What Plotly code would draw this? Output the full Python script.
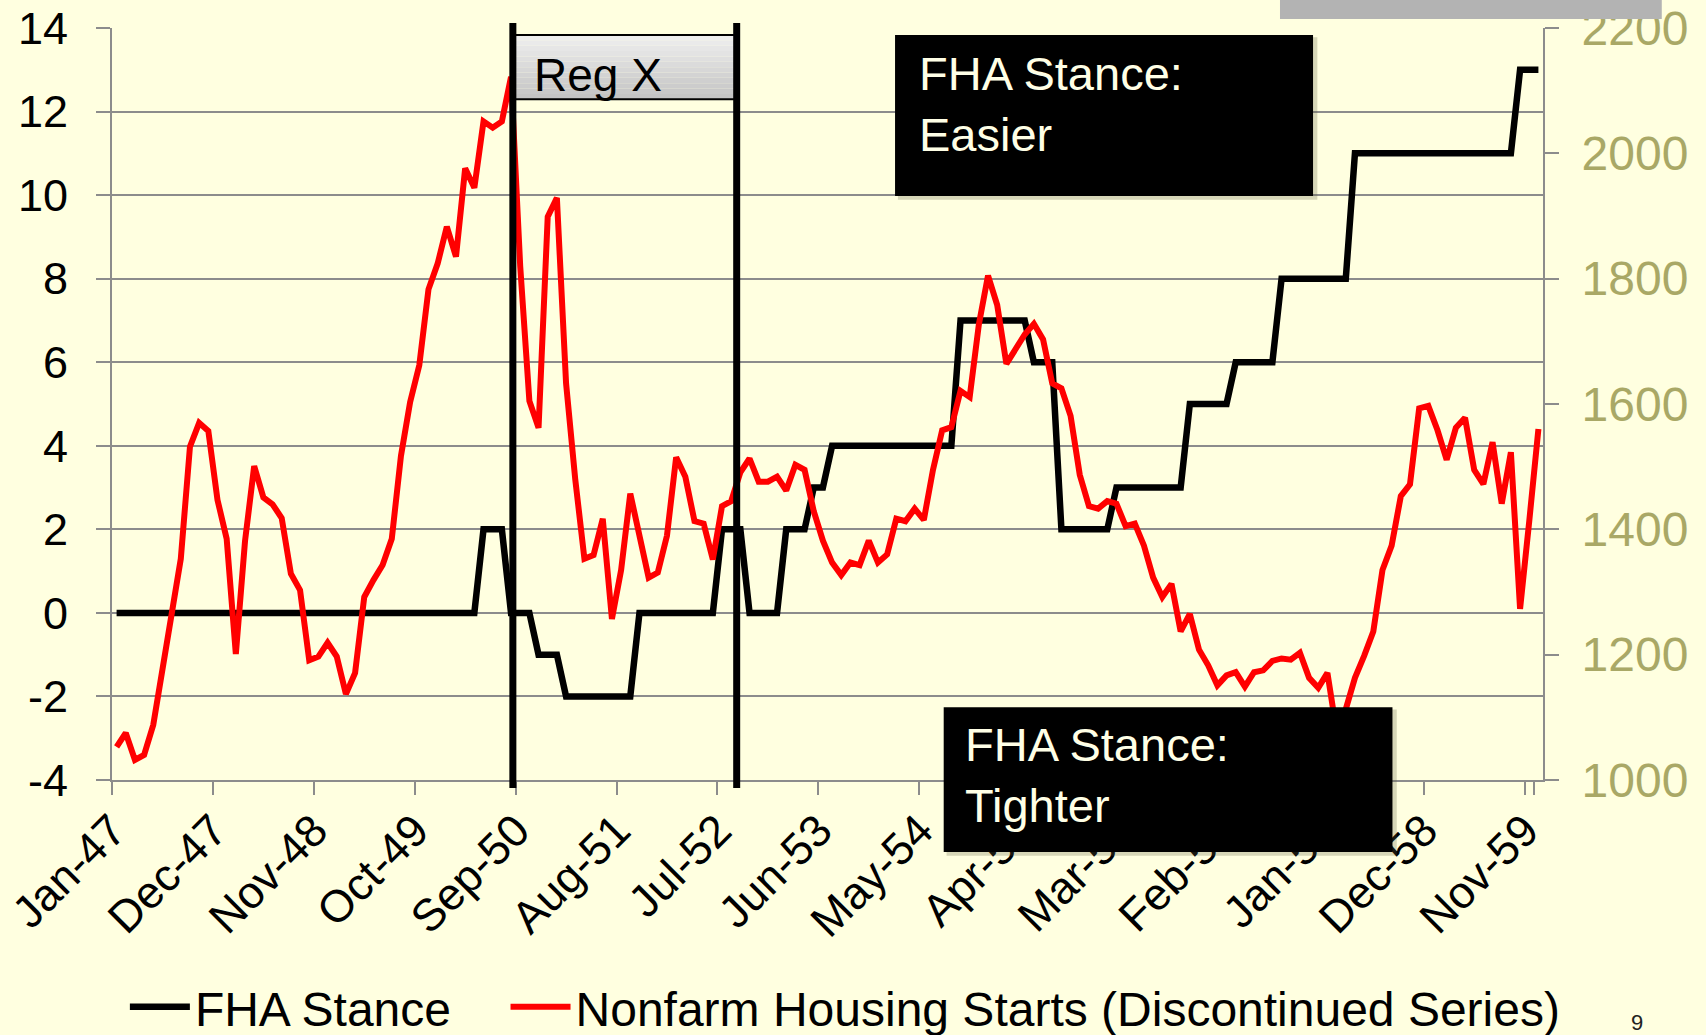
import plotly.graph_objects as go
import pandas as pd

# ---------------- data ----------------
MONTHS = pd.date_range("1947-01-01", periods=156, freq="MS").strftime("%b-%y").tolist()

TICK_LABELS = ["Jan-47", "Dec-47", "Nov-48", "Oct-49", "Sep-50", "Aug-51", "Jul-52",
               "Jun-53", "May-54", "Apr-55", "Mar-56", "Feb-57", "Jan-58", "Dec-58", "Nov-59"]

# FHA stance index (left axis), monthly Jan-47 .. Dec-59
FHA_STANCE = [
    0, 0, 0, 0, 0, 0, 0, 0, 0, 0, 0, 0,            # 1947
    0, 0, 0, 0, 0, 0, 0, 0, 0, 0, 0, 0,            # 1948
    0, 0, 0, 0, 0, 0, 0, 0, 0, 0, 0, 0,            # 1949
    0, 0, 0, 0, 2, 2, 2, 0, 0, 0, -1, -1,          # 1950
    -1, -2, -2, -2, -2, -2, -2, -2, -2, 0, 0, 0,   # 1951
    0, 0, 0, 0, 0, 0, 2, 2, 2, 0, 0, 0,            # 1952
    0, 2, 2, 2, 3, 3, 4, 4, 4, 4, 4, 4,            # 1953
    4, 4, 4, 4, 4, 4, 4, 4, 7, 7, 7, 7,            # 1954
    7, 7, 7, 7, 6, 6, 6, 2, 2, 2, 2, 2,            # 1955
    2, 3, 3, 3, 3, 3, 3, 3, 3, 5, 5, 5,            # 1956
    5, 5, 6, 6, 6, 6, 6, 8, 8, 8, 8, 8,            # 1957
    8, 8, 8, 11, 11, 11, 11, 11, 11, 11, 11, 11,   # 1958
    11, 11, 11, 11, 11, 11, 11, 11, 11, 13, 13, 13,  # 1959
]

# Nonfarm housing starts (right axis), monthly Jan-47 .. Dec-59
HOUSING_STARTS = [
    1053, 1075, 1032, 1040, 1088, 1177, 1260, 1353, 1532, 1570, 1557, 1447,  # 1947
    1385, 1201, 1381, 1501, 1451, 1440, 1418, 1329, 1303, 1191, 1197, 1219,  # 1948
    1197, 1137, 1171, 1292, 1319, 1343, 1385, 1517, 1603, 1662, 1783, 1824,  # 1949
    1883, 1835, 1976, 1945, 2051, 2041, 2051, 2122, 1820, 1605, 1562, 1899,  # 1950
    1929, 1633, 1480, 1353, 1359, 1417, 1257, 1335, 1457, 1390, 1323, 1331,  # 1951
    1390, 1515, 1484, 1413, 1409, 1352, 1437, 1445, 1491, 1513, 1476, 1476,  # 1952
    1484, 1462, 1503, 1495, 1429, 1382, 1347, 1327, 1347, 1343, 1382, 1347,  # 1953
    1360, 1417, 1413, 1433, 1415, 1495, 1558, 1563, 1621, 1611, 1727, 1805,  # 1954
    1758, 1664, 1687, 1711, 1728, 1703, 1633, 1625, 1581, 1487, 1437, 1433,  # 1955
    1445, 1441, 1405, 1409, 1374, 1323, 1292, 1313, 1237, 1265, 1208, 1183,  # 1956
    1151, 1167, 1172, 1149, 1172, 1175, 1190, 1194, 1192, 1203, 1163, 1147,  # 1957
    1171, 1077, 1113, 1163, 1198, 1237, 1335, 1374, 1453, 1472, 1593, 1597,  # 1958
    1558, 1511, 1562, 1578, 1495, 1472, 1539, 1441, 1523, 1273, 1413, 1560,  # 1959
]

LEFT_TICKS = [-4, -2, 0, 2, 4, 6, 8, 10, 12, 14]
LEFT_TICK_TEXT = ["-4", "-2", "0", "2", "4", "6", "8", "10", "12", "14"]
RIGHT_TICKS = [1000, 1200, 1400, 1600, 1800, 2000, 2200]

SERIES_NAMES = ["FHA Stance", "Nonfarm Housing Starts (Discontinued Series)"]
REG_X_BOUNDS = (43.2, 67.6)   # category positions of the Reg X markers

# ---------------- style ----------------
FONT = "Liberation Sans, Arial, sans-serif"
BG = "#FFFFE0"
GRID = "#8C8C8C"
OLIVE = "#A9A866"
CREAM = "#FFFFE6"

fig = go.Figure()
fig.add_trace(go.Scatter(x=MONTHS, y=FHA_STANCE, name=SERIES_NAMES[0], mode="lines",
                         line=dict(color="#000000", width=6.5), yaxis="y", legend="legend"))
fig.add_trace(go.Scatter(x=MONTHS, y=HOUSING_STARTS, name=SERIES_NAMES[1], mode="lines",
                         line=dict(color="#FF0000", width=6), yaxis="y2", legend="legend2"))

shapes = []
# grey bar at top right of slide
shapes.append(dict(type="rect", xref="paper", yref="paper", x0=0.8162, x1=1.083,
                   y0=1.012, y1=1.05, fillcolor="#B3B3B3", line=dict(width=0), layer="above"))
# Reg X label box with vertical gradient
n_bands = 12
y_lo, y_hi = 0.9052, 0.9907
for k in range(n_bands):
    t = k / (n_bands - 1)
    g = int(round(0xC4 + (0xEE - 0xC4) * t))
    shapes.append(dict(type="rect", xref="x", yref="paper",
                       x0=REG_X_BOUNDS[0], x1=REG_X_BOUNDS[1],
                       y0=y_lo + (y_hi - y_lo) * k / n_bands,
                       y1=y_lo + (y_hi - y_lo) * (k + 1) / n_bands,
                       fillcolor=f"rgb({g},{g},{g})", line=dict(width=0), layer="above"))
shapes.append(dict(type="rect", xref="x", yref="paper", x0=REG_X_BOUNDS[0], x1=REG_X_BOUNDS[1],
                   y0=y_lo, y1=y_hi, line=dict(color="#000000", width=2), layer="above"))
# Reg X vertical markers
for xv in REG_X_BOUNDS:
    shapes.append(dict(type="line", xref="x", yref="paper", x0=xv, x1=xv, y0=-0.0106, y1=1.0066,
                       line=dict(color="#000000", width=7), layer="above"))
# FHA stance boxes (with a soft shadow)
for (x0, x1, y0, y1) in [(0.5472, 0.8393, 0.7766, 0.9907), (0.5812, 0.8948, -0.0957, 0.0967)]:
    shapes.append(dict(type="rect", xref="paper", yref="paper", x0=x0 + 0.002, x1=x1 + 0.003,
                       y0=y0 - 0.005, y1=y1 - 0.003, fillcolor="rgba(90,90,60,0.25)",
                       line=dict(width=0), layer="above"))
    shapes.append(dict(type="rect", xref="paper", yref="paper", x0=x0, x1=x1, y0=y0, y1=y1,
                       fillcolor="#000000", line=dict(width=0), layer="above"))

annotations = [
    dict(text="Reg X", xref="paper", yref="paper", x=0.2935, y=0.9375, xanchor="left",
         yanchor="middle", showarrow=False, font=dict(family=FONT, size=46, color="#000000")),
    dict(text="FHA Stance:<br>Easier", xref="paper", yref="paper", x=0.5623, y=0.8983,
         xanchor="left", yanchor="middle", align="left", showarrow=False,
         font=dict(family=FONT, size=47, color=CREAM)),
    dict(text="FHA Stance:<br>Tighter", xref="paper", yref="paper", x=0.5945, y=0.007,
         xanchor="left", yanchor="middle", align="left", showarrow=False,
         font=dict(family=FONT, size=47, color=CREAM)),
    dict(text="9", xref="paper", yref="paper", x=1.0657, y=-0.323, xanchor="center",
         yanchor="middle", showarrow=False, font=dict(family=FONT, size=22, color="#222222")),
]

legend_common = dict(orientation="h", xanchor="left", y=-0.302, yanchor="middle",
                     font=dict(family=FONT, size=48, color="#000000"),
                     bgcolor="rgba(0,0,0,0)", itemwidth=60)

fig.update_layout(
    width=1706, height=1035,
    margin=dict(l=112, r=163, t=28, b=255, autoexpand=False),
    paper_bgcolor=BG, plot_bgcolor=BG,
    font=dict(family=FONT, color="#000000"),
    xaxis=dict(type="category", range=[-0.5, 155.5], tickmode="array",
               tickvals=TICK_LABELS, ticktext=TICK_LABELS, tickson="boundaries",
               tickangle=-45, tickfont=dict(size=45, color="#000000"),
               ticklabelstandoff=4, ticklabelshift=-4,
               ticks="outside", ticklen=13, tickwidth=2, tickcolor=GRID,
               showgrid=False, showline=True, linecolor=GRID, linewidth=2, zeroline=False),
    yaxis=dict(range=[-4, 14], tickmode="array", tickvals=LEFT_TICKS, ticktext=LEFT_TICK_TEXT,
               tickfont=dict(size=45, color="#000000"), ticks="outside", ticklen=14,
               tickwidth=2, tickcolor=GRID, ticklabelstandoff=19,
               showgrid=True, gridcolor=GRID, gridwidth=2, zeroline=False,
               showline=True, linecolor=GRID, linewidth=2),
    yaxis2=dict(range=[1000, 2200], tickmode="array", tickvals=RIGHT_TICKS,
                overlaying="y", side="right",
                tickfont=dict(size=48, color=OLIVE), ticks="outside", ticklen=14,
                tickwidth=2, tickcolor=GRID, ticklabelstandoff=13,
                showgrid=False, zeroline=False, showline=True, linecolor=GRID, linewidth=2),
    showlegend=True,
    legend=dict(x=0.0300 - 0.021, **legend_common),
    legend2=dict(x=0.2960 - 0.021, **legend_common),
    shapes=shapes,
    annotations=annotations,
)

fig.write_html("out.html", config={"displayModeBar": False},
               post_script="document.body.style.margin='0';document.body.style.overflow='hidden';")
